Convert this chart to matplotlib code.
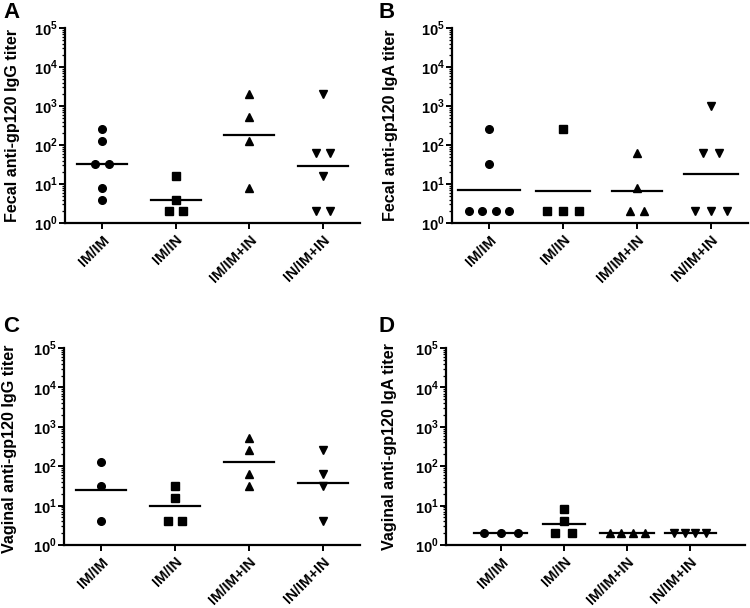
"""Mucosal anti-gp120 titers by immunization route (4 panels)."""

import matplotlib

matplotlib.use("Agg")
import matplotlib.pyplot as plt
import numpy as np
from matplotlib.ticker import FixedLocator, LogLocator, NullFormatter

plt.rcParams["font.family"] = ["Liberation Sans", "DejaVu Sans"]
plt.rcParams["font.weight"] = "bold"
plt.rcParams["mathtext.fontset"] = "custom"
plt.rcParams["mathtext.rm"] = "Liberation Sans:bold"
plt.rcParams["mathtext.bf"] = "Liberation Sans:bold"

GROUPS = ["IM/IM", "IM/IN", "IM/IM+IN", "IN/IM+IN"]
MARKERS = ["o", "s", "^", "v"]

# titers, one list per group
FECAL_IGG = [
    [256, 128, 32, 32, 8, 4],
    [16, 4, 2, 2],
    [2048, 512, 128, 8],
    [2048, 64, 64, 16, 2, 2],
]
FECAL_IGA = [
    [256, 32, 2, 2, 2, 2],
    [256, 2, 2, 2],
    [64, 8, 2, 2],
    [1024, 64, 64, 2, 2, 2],
]
VAGINAL_IGG = [
    [128, 32, 4],
    [32, 16, 4, 4],
    [512, 256, 64, 32],
    [256, 64, 32, 4],
]
VAGINAL_IGA = [
    [2, 2, 2],
    [8, 4, 2, 2],
    [2, 2, 2, 2],
    [2, 2, 2, 2],
]

PANELS = [
    # letter, data, ylabel, axes rect in pixels (left, top, right, bottom), xlim, swarm spacing, label coords, letter pos
    ("A", FECAL_IGG, "Fecal anti-gp120 IgG titer", (65, 28, 360, 223), (-0.5, 3.5), [0.19] * 4, (-0.153, 0.5), (3, 2)),
    ("B", FECAL_IGA, "Fecal anti-gp120 IgA titer", (452, 28, 748, 223), (-0.5, 3.5), [0.18, 0.21, 0.19, 0.21], (-0.182, 0.5), (379, 2)),
    ("C", VAGINAL_IGG, "Vaginal anti-gp120 IgG titer", (64, 348, 360, 545), (-0.5, 3.5), [0.19] * 4, (-0.159, 0.49), (3, 316)),
    ("D", VAGINAL_IGA, "Vaginal anti-gp120 IgA titer", (446, 348, 745, 545), (-0.87, 3.87), [0.27, 0.27, 0.185, 0.17], (-0.164, 0.5), (379, 316)),
]

W, H = 750, 608


def swarm_offsets(values, spacing):
    # spread points with identical values side by side
    values = np.asarray(values, dtype=float)
    offsets = np.zeros(len(values))
    for v in np.unique(values):
        idx = np.where(values == v)[0]
        n = len(idx)
        offsets[idx] = (np.arange(n) - (n - 1) / 2) * spacing
    return offsets


fig = plt.figure(figsize=(W / 100, H / 100), dpi=100)

for letter, data, ylabel, (l, t, r, b), xlim, spacing, label_xy, letter_xy in PANELS:
    ax = fig.add_axes([l / W, 1 - b / H, (r - l) / W, (b - t) / H])
    for i, (values, marker) in enumerate(zip(data, MARKERS)):
        offs = swarm_offsets(values, spacing[i])
        ax.plot(i + offs, values, linestyle="none", marker=marker, color="black",
                markersize=6 if marker in "^v" else 5.5, clip_on=False, zorder=3)
        gmean = np.exp(np.mean(np.log(values)))
        half = max(0.34, np.abs(offs).max() + 0.15)
        ax.plot([i - half, i + half], [gmean, gmean], color="black", linewidth=1.6, zorder=2)

    ax.set_yscale("log")
    ax.set_ylim(1, 1e5)
    ax.set_xlim(*xlim)
    ax.yaxis.set_major_locator(FixedLocator([10 ** k for k in range(6)]))
    ax.set_yticklabels([r"$10^{%d}$" % k for k in range(6)], fontsize=10.5)
    ax.yaxis.set_minor_locator(LogLocator(base=10, subs=np.arange(2, 10)))
    ax.yaxis.set_minor_formatter(NullFormatter())
    ax.tick_params(axis="y", which="major", length=4, width=1.4, pad=1)
    ax.tick_params(axis="y", which="minor", length=2.5, width=0.9)

    ax.set_xticks(range(len(GROUPS)))
    ax.set_xticklabels(GROUPS, rotation=45, ha="right", rotation_mode="anchor", fontsize=10.5)
    ax.tick_params(axis="x", length=4, width=1.4, pad=3)

    for side in ["top", "right"]:
        ax.spines[side].set_visible(False)
    for side in ["left", "bottom"]:
        ax.spines[side].set_linewidth(1.6)

    ax.set_ylabel(ylabel, fontsize=11.6, fontweight="bold")
    ax.yaxis.set_label_coords(*label_xy)

    fig.text(letter_xy[0] / W, 1 - letter_xy[1] / H, letter,
             fontsize=16, fontweight="bold", va="top", ha="left")

fig.savefig("out.png", dpi=100)
